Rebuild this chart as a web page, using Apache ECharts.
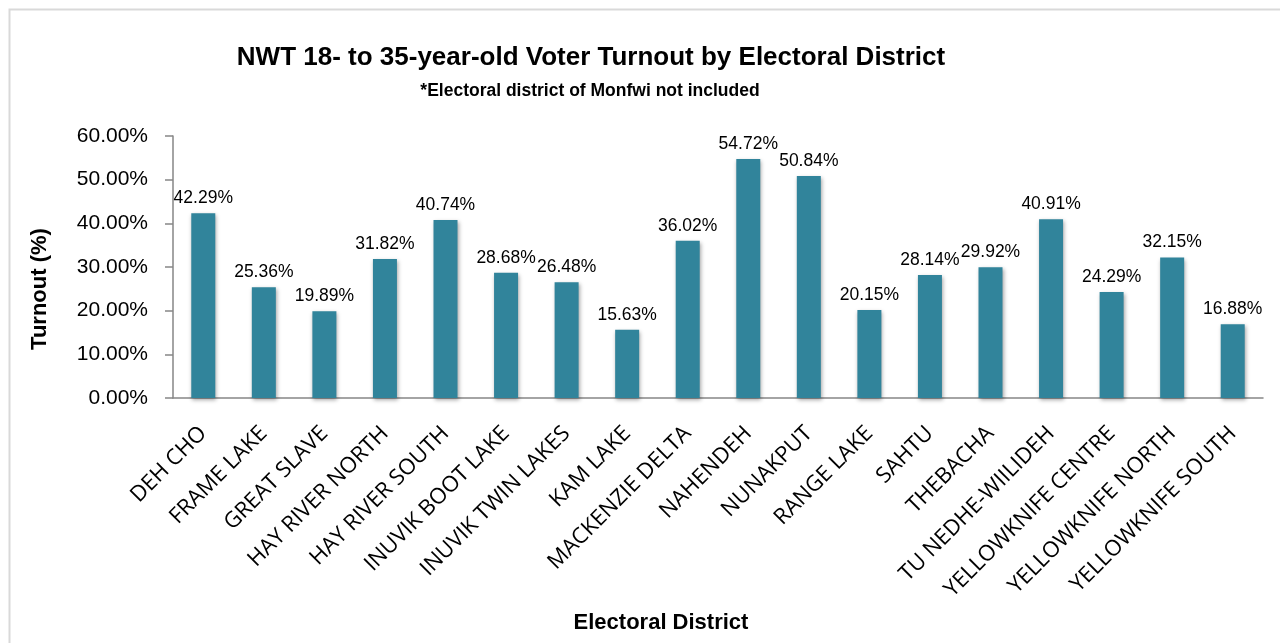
<!DOCTYPE html>
<html><head><meta charset="utf-8">
<script src="https://cdn.jsdelivr.net/npm/echarts@6/dist/echarts.min.js"></script>
<style>html,body{margin:0;padding:0;background:#fff}#c{width:1280px;height:643px}</style>
</head><body><div id="c"></div>
<script>
const categories = ["DEH CHO","FRAME LAKE","GREAT SLAVE","HAY RIVER NORTH","HAY RIVER SOUTH","INUVIK BOOT LAKE","INUVIK TWIN LAKES","KAM LAKE","MACKENZIE DELTA","NAHENDEH","NUNAKPUT","RANGE LAKE","SAHTU","THEBACHA","TU NEDHE-WIILIDEH","YELLOWKNIFE CENTRE","YELLOWKNIFE NORTH","YELLOWKNIFE SOUTH"];
const turnout = [42.29,25.36,19.89,31.82,40.74,28.68,26.48,15.63,36.02,54.72,50.84,20.15,28.14,29.92,40.91,24.29,32.15,16.88];
const yTicks = [0,10,20,30,40,50,60];

const sans = "'Liberation Sans',Arial,sans-serif";
const chart = echarts.init(document.getElementById('c'));
chart.setOption({
  backgroundColor:'#fff',
  animation:false,
  title:[
    {text:'NWT 18- to 35-year-old Voter Turnout by Electoral District',left:586,top:40,textAlign:'center',
     textStyle:{fontFamily:sans,fontWeight:'bold',fontSize:26,color:'#000'}},
    {text:'*Electoral district of Monfwi not included',left:585,top:77,textAlign:'center',
     textStyle:{fontFamily:sans,fontWeight:'bold',fontSize:17.5,color:'#000'}}
  ],
  graphic:[
    {type:'rect',shape:{x:9.5,y:9.5,width:1300,height:700},style:{fill:'none',stroke:'#d9d9d9',lineWidth:2},silent:true},
    {type:'text',x:40,y:289,rotation:Math.PI/2,style:{text:'Turnout (%)',fontFamily:sans,fontWeight:'bold',fontSize:22,fill:'#000',align:'center',verticalAlign:'middle'}},
    {type:'text',x:661,y:623,style:{text:'Electoral District',fontFamily:sans,fontWeight:'bold',fontSize:22,fill:'#000',align:'center',verticalAlign:'middle'}}
  ],
  grid:{left:173,right:17,top:136,bottom:245},
  xAxis:{type:'category',data:categories,
    axisLine:{lineStyle:{color:'#868686',width:1.5}},
    axisTick:{show:false},
    axisLabel:{interval:0,rotate:45,margin:32,color:'#000',fontFamily:"'Open Sans',sans-serif",fontSize:22}},
  yAxis:{type:'value',min:0,max:60,interval:10,
    axisLine:{show:true,lineStyle:{color:'#868686',width:1.5}},
    axisTick:{show:true,inside:false,length:8,lineStyle:{color:'#868686',width:1.5}},
    splitLine:{show:false},
    axisLabel:{margin:25,color:'#000',fontFamily:sans,fontSize:21,formatter:v=>yTicks.includes(v)?v.toFixed(2)+'%':''}},
  series:[{type:'bar',data:turnout,barWidth:24,
    itemStyle:{color:'#31849B',shadowColor:'rgba(0,0,0,0.35)',shadowBlur:4,shadowOffsetX:1,shadowOffsetY:2},
    label:{show:true,position:'top',distance:6,formatter:p=>p.value.toFixed(2)+'%',color:'#000',fontFamily:sans,fontSize:17.5}}]
});
</script></body></html>
